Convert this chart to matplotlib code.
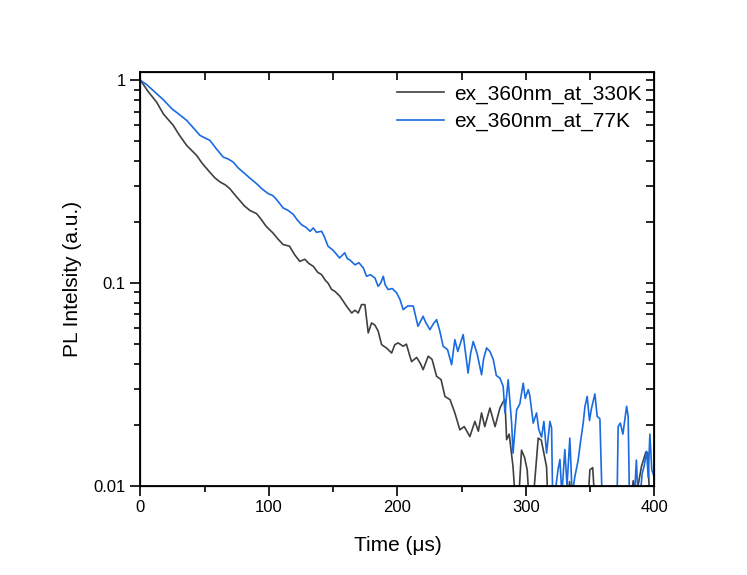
import numpy as np
import matplotlib
matplotlib.use("Agg")
import matplotlib.pyplot as plt
from matplotlib.ticker import LogLocator, NullFormatter, MultipleLocator

plt.rcParams['font.family'] = ['Liberation Sans', 'DejaVu Sans']

# ex_360nm_at_330K
t_330 = [
    0, 6, 12.6, 18, 25.5, 30, 36, 40, 43.7, 48,
    54, 58, 62, 66, 69.6, 74, 77.4, 81, 85.2, 90.4,
    93, 98, 103, 107, 111, 116, 120, 124, 128, 131,
    134.5, 138, 141, 144, 146, 148.8, 151.4, 155.3, 160.5, 164.4,
    167, 169.5, 172.1, 174.7, 177.3, 179.9, 182.5, 185, 187.7, 191.6,
    195.5, 198, 200.6, 204.5, 207, 209.7, 211, 215, 218, 220,
    224, 227, 230.5, 234, 237, 241, 244.7, 248.6, 252, 256.4,
    260.3, 263, 265.5, 268, 272, 276, 279.8, 282.3, 283.7, 285,
    287, 290, 291.5, 293, 296.6, 299, 301, 304, 306, 309.6,
    312, 316.1, 318, 330, 334, 337, 347, 349.8, 352, 355,
    380, 383.5, 386, 390, 393.4, 395, 397, 400]
i_330 = [
    1.0, 0.88, 0.78, 0.68, 0.60, 0.54, 0.477, 0.45, 0.426, 0.39,
    0.352, 0.33, 0.315, 0.305, 0.292, 0.27, 0.255, 0.24, 0.228, 0.22,
    0.21, 0.19, 0.177, 0.165, 0.155, 0.152, 0.138, 0.128, 0.131, 0.125,
    0.121, 0.113, 0.110, 0.103, 0.100, 0.093, 0.091, 0.086, 0.0768, 0.0712,
    0.0735, 0.0712, 0.0783, 0.0783, 0.0568, 0.0636, 0.062, 0.058, 0.0497, 0.0478,
    0.0452, 0.0497, 0.0507, 0.0488, 0.050, 0.0436, 0.041, 0.043, 0.040, 0.0374,
    0.0436, 0.042, 0.0347, 0.0334, 0.0276, 0.0266, 0.0229, 0.0189, 0.0196, 0.0175,
    0.0208, 0.0186, 0.0229, 0.0196, 0.0242, 0.0196, 0.0242, 0.026, 0.0266, 0.0169,
    0.018, 0.0124, 0.009, 0.006, 0.015, 0.0138, 0.012, 0.006, 0.009, 0.0172,
    0.0168, 0.0124, 0.006, 0.006, 0.0105, 0.006, 0.006, 0.012, 0.0123, 0.006,
    0.006, 0.0106, 0.009, 0.0125, 0.0147, 0.0145, 0.006, 0.006]

# ex_360nm_at_77K
t_77 = [
    0, 5, 12.6, 18, 24.3, 30, 36, 42, 46.3, 50,
    54, 59, 64.4, 68, 72.2, 76, 80, 85, 90.4, 95,
    99.5, 103, 106, 111, 115, 119, 122, 125.4, 129, 132,
    134.5, 137, 141, 143, 146, 150, 155, 159, 161, 163,
    167, 170, 173.4, 176, 179, 182.5, 185, 187, 189, 190.5,
    192.8, 196, 199.4, 202, 204.5, 208, 212.3, 216, 220, 222,
    225.3, 228, 230.5, 233, 235.6, 239, 242.2, 244.7, 247, 251.2,
    255, 257, 259, 262, 265.5, 267, 269.4, 272, 274.6, 277,
    279.8, 282.3, 283.7, 286.2, 288.9, 290, 292.8, 295.3, 297.9, 299.5,
    301.8, 303, 305.7, 308.3, 310, 312.2, 314, 316.1, 318.7, 320,
    321.2, 322.5, 325, 326.5, 328, 330.3, 332, 334.2, 336, 338,
    340.7, 342, 344.6, 346, 347.7, 349.5, 351, 353.7, 355.5, 357.6,
    360, 361.5, 370.6, 371.8, 373.5, 375.5, 378.4, 379.6, 381, 383,
    386, 387.5, 389, 390.5, 392, 394, 395.2, 396.5, 398, 400]
i_77 = [
    1.0, 0.95, 0.859, 0.80, 0.725, 0.68, 0.634, 0.575, 0.535, 0.52,
    0.506, 0.46, 0.418, 0.41, 0.395, 0.37, 0.352, 0.33, 0.309, 0.29,
    0.276, 0.27, 0.258, 0.235, 0.228, 0.218, 0.205, 0.194, 0.188, 0.180,
    0.187, 0.178, 0.180, 0.170, 0.152, 0.145, 0.133, 0.141, 0.132, 0.130,
    0.123, 0.126, 0.119, 0.108, 0.110, 0.106, 0.0964, 0.100, 0.108, 0.098,
    0.0929, 0.094, 0.0895, 0.083, 0.074, 0.0771, 0.0771, 0.0612, 0.0686, 0.064,
    0.0589, 0.063, 0.066, 0.058, 0.0488, 0.047, 0.0396, 0.0526, 0.046, 0.0557,
    0.036, 0.045, 0.0515, 0.045, 0.0353, 0.042, 0.0479, 0.046, 0.042, 0.035,
    0.034, 0.031, 0.0229, 0.0334, 0.0204, 0.0145, 0.0237, 0.0254, 0.0321, 0.027,
    0.0298, 0.028, 0.0204, 0.0229, 0.019, 0.0174, 0.0208, 0.0145, 0.0208, 0.0193,
    0.006, 0.009, 0.012, 0.0135, 0.009, 0.0151, 0.010, 0.0172, 0.009, 0.011,
    0.0134, 0.0156, 0.0204, 0.0247, 0.0276, 0.021, 0.024, 0.0284, 0.022, 0.0214,
    0.006, 0.006, 0.006, 0.0196, 0.0204, 0.018, 0.0247, 0.022, 0.006, 0.006,
    0.0134, 0.008, 0.009, 0.0115, 0.0125, 0.0148, 0.011, 0.018, 0.012, 0.011]

labels = ['ex_360nm_at_330K', 'ex_360nm_at_77K']
colors = ['#404040', '#1a6be0']

fig = plt.figure(figsize=(7.47, 5.75), dpi=100)
ax = fig.add_axes([0.188, 0.155, 0.688, 0.720])

ax.plot(t_330, i_330, color=colors[0], lw=1.2, label=labels[0])
ax.plot(t_77, i_77, color=colors[1], lw=1.2, label=labels[1])

ax.set_yscale('log')
ax.set_xlim(0, 400)
ax.set_ylim(0.01, 1.1)

ax.xaxis.set_major_locator(MultipleLocator(100))
ax.xaxis.set_minor_locator(MultipleLocator(50))
ax.set_yticks([0.01, 0.1, 1])
ax.set_yticklabels(['0.01', '0.1', '1'])
ax.yaxis.set_minor_locator(LogLocator(base=10, subs=np.arange(2, 10)))
ax.yaxis.set_minor_formatter(NullFormatter())

ax.tick_params(which='major', direction='out', length=7, width=1.2, labelsize=12)
ax.tick_params(which='minor', direction='out', length=4, width=1.2)

for s in ax.spines.values():
    s.set_linewidth(1.3)

# mirrored ticks on top and right, pointing in
axr = ax.twinx()
axr.set_yscale('log')
axr.set_ylim(ax.get_ylim())
axr.set_yticks([0.01, 0.1, 1])
axr.yaxis.set_minor_locator(LogLocator(base=10, subs=np.arange(2, 10)))
axr.tick_params(which='both', direction='in', length=6, width=1.2, labelright=False)
axr.yaxis.set_minor_formatter(NullFormatter())

axt = ax.twiny()
axt.set_xlim(ax.get_xlim())
axt.xaxis.set_major_locator(MultipleLocator(100))
axt.xaxis.set_minor_locator(MultipleLocator(50))
axt.tick_params(which='both', direction='in', length=6, width=1.2, labeltop=False)

ax.set_xlabel('Time (\u03bcs)', fontsize=15, labelpad=15)
ax.set_ylabel('PL Intelsity (a.u.)', fontsize=15, labelpad=8)

ax.legend(loc='upper right', frameon=False, fontsize=15, handlelength=2.25,
          handletextpad=0.5, borderaxespad=0.2, labelspacing=0.4)

fig.savefig('out.png', dpi=100, facecolor='white')
